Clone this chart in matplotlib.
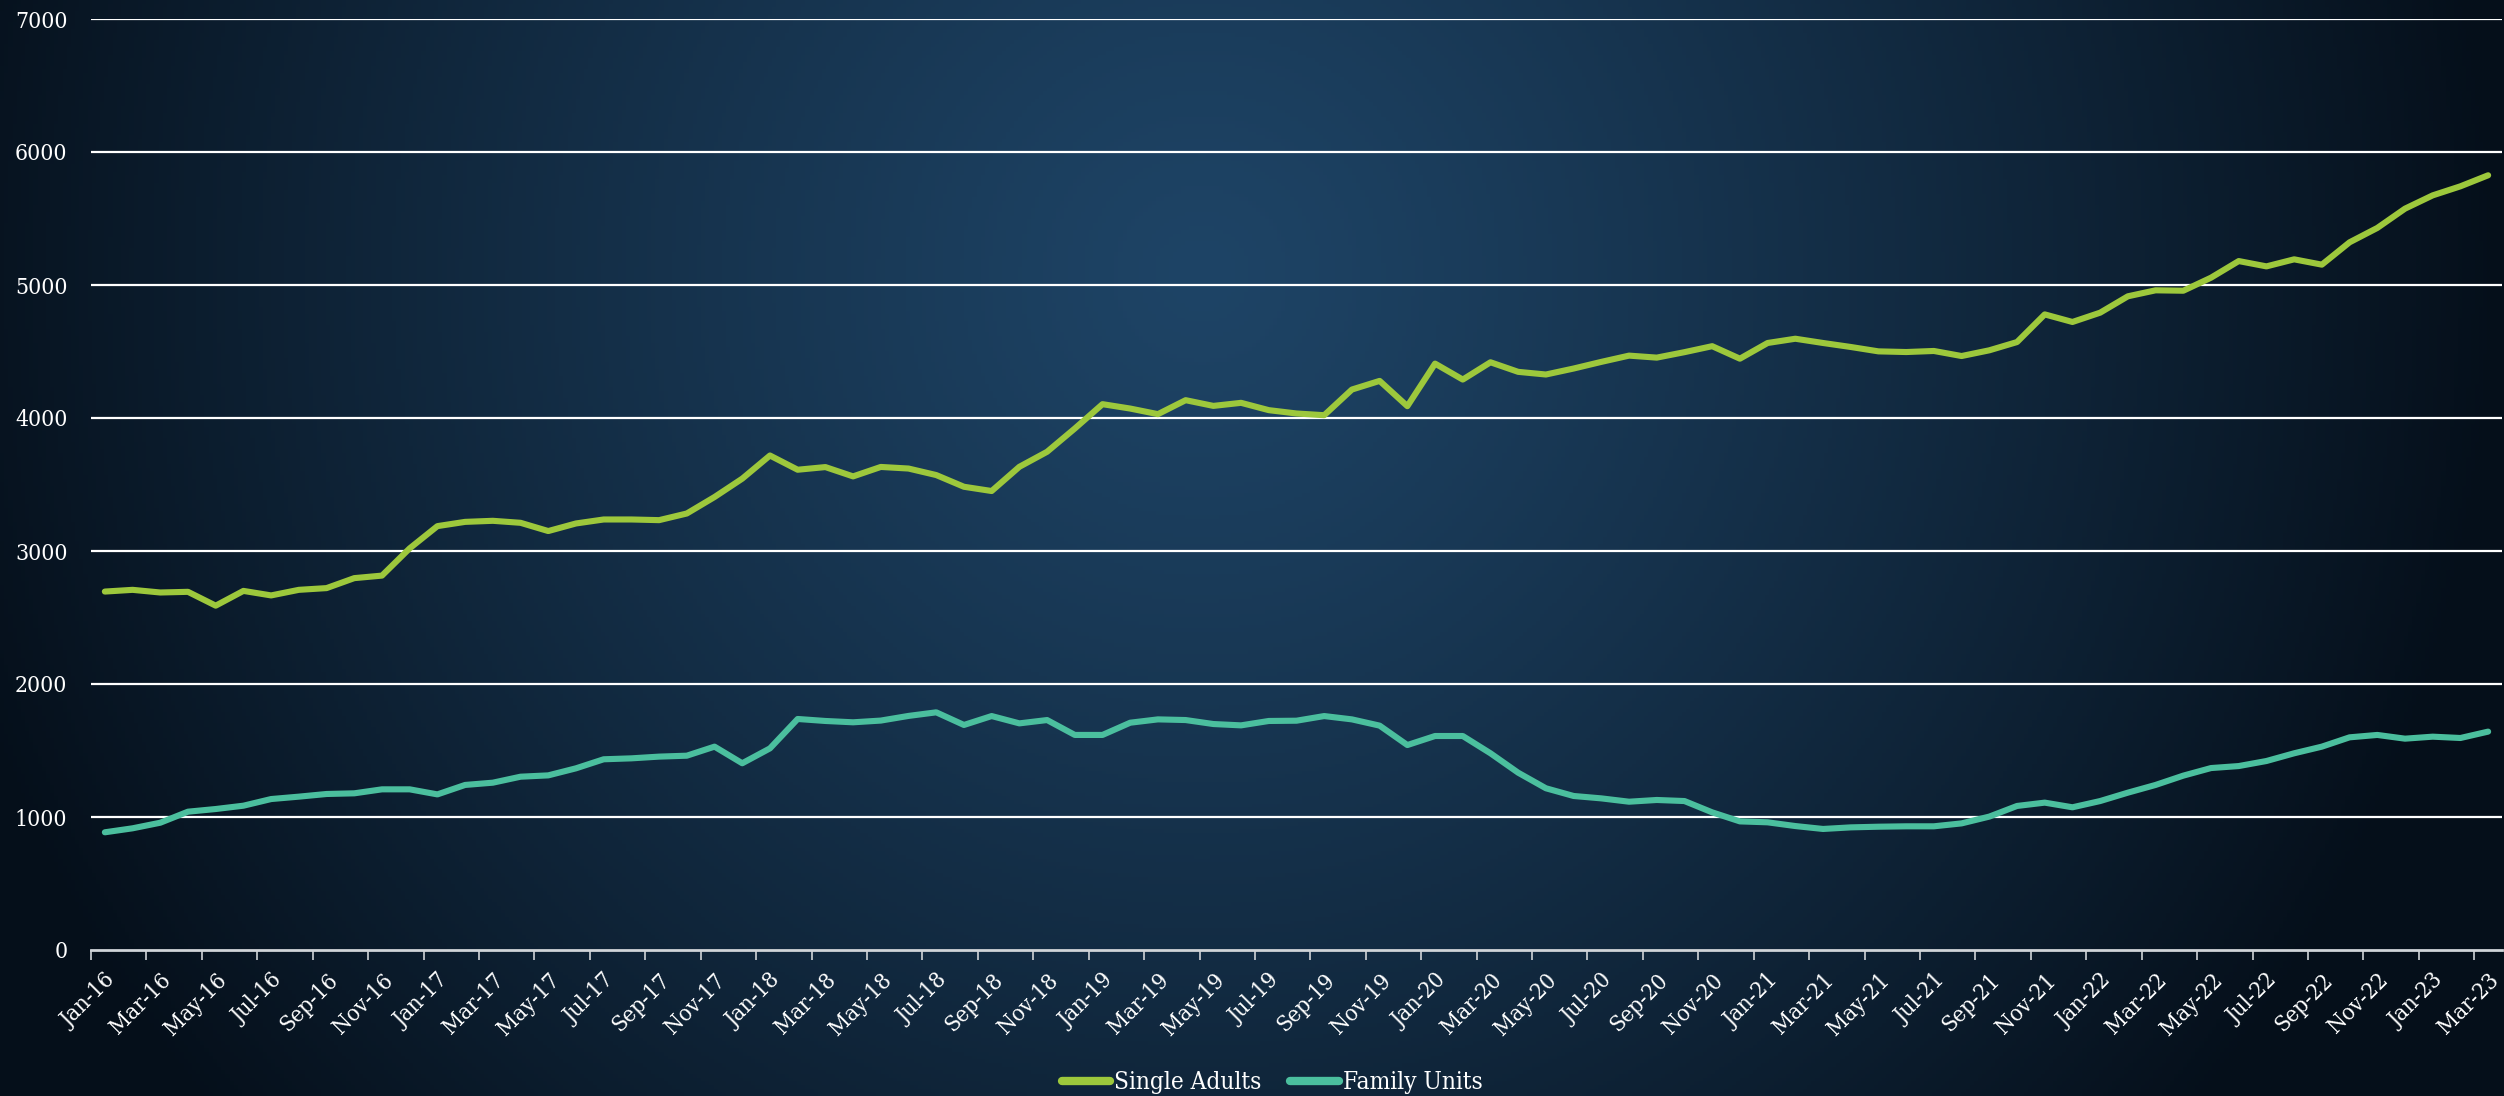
import numpy as np
import matplotlib
matplotlib.use("Agg")
import matplotlib.pyplot as plt

# monthly counts, Jan-16 .. Mar-23
months = ["Jan", "Feb", "Mar", "Apr", "May", "Jun", "Jul", "Aug", "Sep", "Oct", "Nov", "Dec"]
labels = []
for yr in range(16, 24):
    for m in months:
        labels.append(m + "-" + str(yr))
labels = labels[:87]

single_adults = [2695, 2708, 2688, 2693, 2589, 2700, 2666, 2708, 2721, 2796,
                 2815, 3020, 3187, 3219, 3227, 3212, 3150, 3207, 3237, 3237,
                 3232, 3282, 3406, 3544, 3718, 3611, 3631, 3561, 3632, 3620,
                 3571, 3483, 3451, 3633, 3746, 3921, 4104, 4071, 4029, 4134,
                 4091, 4114, 4059, 4034, 4021, 4214, 4279, 4089, 4409, 4289,
                 4419, 4347, 4327, 4372, 4422, 4469, 4454, 4495, 4540, 4446,
                 4564, 4596, 4564, 4534, 4501, 4496, 4504, 4466, 4509, 4571,
                 4779, 4722, 4792, 4915, 4960, 4957, 5055, 5180, 5140, 5193,
                 5153, 5321, 5429, 5574, 5674, 5742, 5825]

family_units = [885, 915, 957, 1040, 1060, 1085, 1135, 1153, 1173, 1178,
                1208, 1208, 1170, 1241, 1258, 1303, 1313, 1366, 1434, 1441,
                1454, 1461, 1529, 1404, 1516, 1737, 1722, 1712, 1725, 1760,
                1787, 1692, 1759, 1704, 1729, 1617, 1617, 1709, 1734, 1729,
                1699, 1689, 1722, 1724, 1759, 1734, 1687, 1541, 1609, 1609,
                1479, 1333, 1216, 1158, 1140, 1115, 1128, 1120, 1035, 967,
                960, 932, 910, 922, 927, 930, 930, 952, 1003, 1083,
                1108, 1073, 1120, 1183, 1241, 1311, 1368, 1383, 1421, 1479,
                1529, 1599, 1617, 1589, 1604, 1594, 1642]

yticks = [0, 1000, 2000, 3000, 4000, 5000, 6000, 7000]

plt.rcParams['font.family'] = ['DejaVu Serif']
plt.rcParams['font.stretch'] = 'condensed'

fig = plt.figure(figsize=(25.04, 10.96), dpi=100)

# background: dark navy with a lighter glow near the upper middle
bg = fig.add_axes([0, 0, 1, 1])
gx, gy = np.meshgrid(np.linspace(0, 1, 600), np.linspace(0, 1, 300))
d = np.sqrt(((gx - 0.48) / 0.52) ** 2 + ((gy - 0.25) / 1.2) ** 2)
d = np.clip(d, 0, 1) ** 1.2
centre = np.array([30, 68, 102]) / 255.0
edge = np.array([5, 15, 26]) / 255.0
img = centre[None, None, :] * (1 - d[..., None]) + edge[None, None, :] * d[..., None]
bg.imshow(img, aspect='auto', extent=[0, 1, 0, 1], origin='upper')
bg.axis('off')

ax = fig.add_axes([91 / 2504, 146 / 1096, (2502 - 91) / 2504, (950 - 19) / 1096])
ax.patch.set_alpha(0)

x = np.arange(len(labels))
ax.plot(x, single_adults, color='#9dc83c', lw=4.4, solid_joinstyle='round',
        solid_capstyle='round', label='Single Adults', zorder=3)
ax.plot(x, family_units, color='#4bbf9e', lw=4.4, solid_joinstyle='round',
        solid_capstyle='round', label='Family Units', zorder=3)

ax.set_xlim(-0.5, len(labels) - 0.5)
ax.set_ylim(0, 7000)
ax.set_yticks(yticks)
for v in yticks[1:]:
    ax.axhline(v, color='white', lw=1.6, zorder=1)

for s in ['left', 'right', 'top']:
    ax.spines[s].set_visible(False)
ax.spines['bottom'].set_color('#d0d4d8')
ax.spines['bottom'].set_linewidth(2)

# tick marks at category boundaries, labels on every second month
ax.set_xticks(np.arange(-0.5, len(labels) - 1, 2))
ax.set_xticklabels([])
ax.tick_params(axis='x', which='major', direction='out', length=7, width=1.2, color='#d0d4d8')
ax.set_xticks(x[::2], minor=True)
ax.set_xticklabels(labels[::2], minor=True, rotation=45, ha='right', va='top',
                   rotation_mode='anchor', color='white', fontsize=16.5)
ax.tick_params(axis='x', which='minor', length=0, pad=14)
ax.tick_params(axis='y', length=0, pad=17, labelcolor='white', labelsize=16.5)

fig.legend(loc='center', bbox_to_anchor=(0.508, 0.012), ncol=2, frameon=False,
           fontsize=17.5, labelcolor='white', handlelength=2.0, handletextpad=0.15,
           columnspacing=1.2, borderaxespad=0)
leg = fig.legends[0]
for h in leg.get_lines():
    h.set_linewidth(6)

fig.savefig('out.png', dpi=100)
